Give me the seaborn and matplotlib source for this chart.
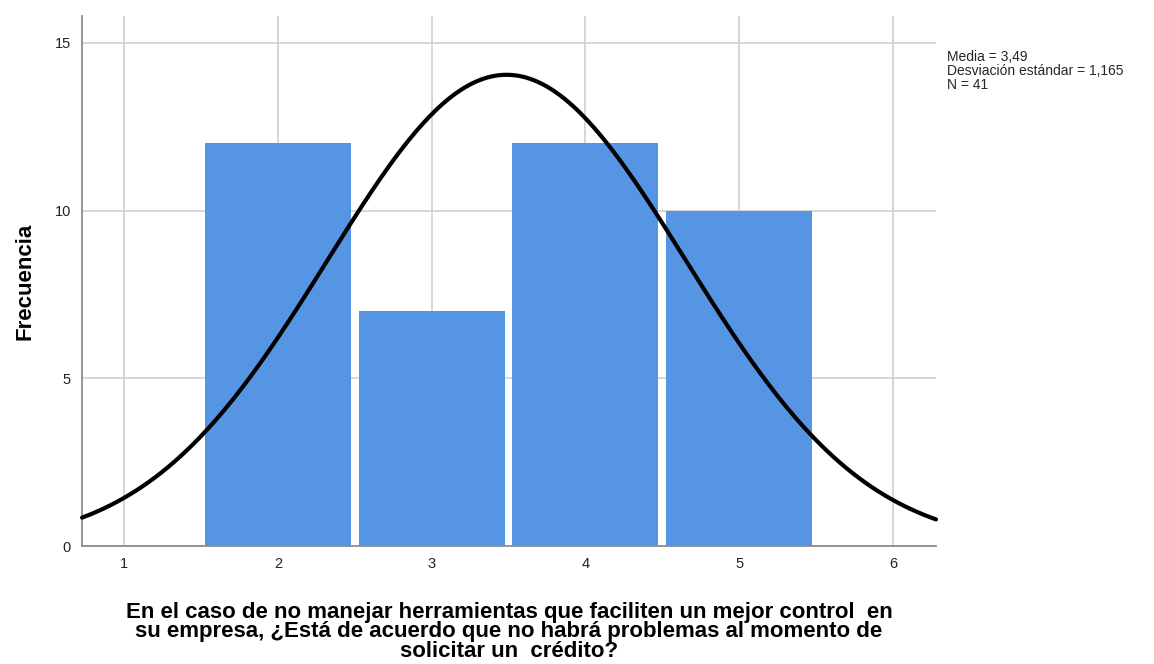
import numpy as np
import pandas as pd
import matplotlib
matplotlib.use("Agg")
import matplotlib.pyplot as plt
import seaborn as sns

# -------- Data --------
categories = [2, 3, 4, 5]
counts = [12, 7, 12, 10]
x_ticks = [1, 2, 3, 4, 5, 6]
y_ticks = [0, 5, 10, 15]

# expand to raw responses so seaborn can do the counting
responses = np.repeat(categories, counts)
df = pd.DataFrame({"respuesta": responses})

mean = df["respuesta"].mean()
sd = df["respuesta"].std()
n = len(df)

# -------- Plot --------
sns.set_style("white")
plt.rcParams["font.family"] = ["Liberation Sans", "DejaVu Sans"]

fig = plt.figure(figsize=(11.54, 6.64), dpi=100)
ax = fig.add_axes([0.0711, 0.1777, 0.7400, 0.7983])

ax.set_xlim(0.727, 6.28)
ax.set_ylim(0, 15.8)
ax.set_xticks(x_ticks)
ax.set_yticks(y_ticks)
ax.grid(True, color="#cfcfcf", linewidth=1.2, zorder=0)
ax.set_axisbelow(True)

sns.histplot(data=df, x="respuesta", discrete=True, shrink=0.95,
             color="#5595e3", alpha=1, edgecolor="none", ax=ax, zorder=2)

# normal curve scaled to counts (bin width 1)
xs = np.linspace(0.727, 6.28, 400)
ys = n / (sd * np.sqrt(2 * np.pi)) * np.exp(-0.5 * ((xs - mean) / sd) ** 2)
ax.plot(xs, ys, color="black", linewidth=3, zorder=3, clip_on=False)

for s in ["top", "right"]:
    ax.spines[s].set_visible(False)
for s in ["left", "bottom"]:
    ax.spines[s].set_color("#8c8c8c")
    ax.spines[s].set_linewidth(1.3)
ax.tick_params(length=0, labelsize=10.5, colors="#222222", pad=8)

ax.set_ylabel("Frecuencia", fontsize=16, fontweight="bold", labelpad=14, color="black")
ax.set_xlabel("En el caso de no manejar herramientas que faciliten un mejor control  en\n"
              "su empresa, ¿Está de acuerdo que no habrá problemas al momento de\n"
              "solicitar un  crédito?",
              fontsize=16, fontweight="bold", labelpad=22, linespacing=0.92, color="black")

stats = f"Media = {mean:.2f}\nDesviación estándar = {sd:.3f}\nN = {n}".replace(".", ",")
fig.text(0.8205, 0.925, stats, fontsize=10, va="top", ha="left", linespacing=1.0)

plt.savefig("out.png", dpi=100)
